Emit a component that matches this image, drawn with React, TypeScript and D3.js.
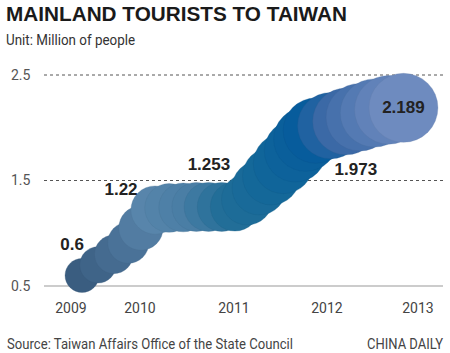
import React, { useRef, useEffect } from 'react';
import * as d3 from 'd3';

// tick labels
const years = [2009, 2010, 2011, 2012, 2013];
const yTicks = [0.5, 1.5, 2.5];

// bubble track (t = position in years, v = million people)
const bubbleT = [
  2009.16, 2009.39, 2009.62, 2009.83, 2010.01, 2010.16, 2010.31, 2010.46, 2010.6,
  2010.73, 2010.87, 2011.01, 2011.14, 2011.27, 2011.4, 2011.53, 2011.66, 2011.77,
  2011.88, 2012.04, 2012.21, 2012.36, 2012.52, 2012.68, 2012.84,
];
const bubbleV = [
  0.6, 0.7, 0.8, 0.91, 1.05, 1.22, 1.24, 1.245, 1.25, 1.25, 1.25, 1.253, 1.32,
  1.43, 1.54, 1.66, 1.78, 1.89, 1.973, 2.02, 2.06, 2.1, 2.14, 2.17, 2.189,
];

// labelled annual values and the bubble each one belongs to
const labelValues = ['0.6', '1.22', '1.253', '1.973', '2.189'];
const labelBubble = [0, 5, 11, 18, 24];

const W = 450;
const H = 353;

const App: React.FC = () => {
  const svgRef = useRef<SVGSVGElement>(null);

  useEffect(() => {
    if (!svgRef.current) return;
    const svg = d3.select(svgRef.current);
    svg.selectAll('*').remove();

    const x = d3.scaleLinear().domain(years).range([71, 140, 234, 327, 418]);
    const y = d3.scaleLinear().domain([0.5, 2.5]).range([286, 75]);
    const r = d3.scaleLinear().domain([0.6, 1.25, 1.6, 2.189]).range([17, 24.5, 29.5, 34.5]);
    const color = d3
      .scaleLinear<string>()
      .domain([2009.16, 2009.83, 2010.16, 2010.6, 2011.0, 2011.4, 2011.88, 2012.2, 2012.84])
      .range(['#3a5d80', '#4a7298', '#5885ab', '#4a7ea5', '#226e98', '#146899', '#075c9c', '#3a68a6', '#6e8bbf'])
      .interpolate(d3.interpolateRgb);

    const light = 'Roboto, "Liberation Sans", sans-serif';
    const bold = '"Liberation Sans", Arial, sans-serif';

    // title block
    svg.append('text')
      .attr('x', 6).attr('y', 21)
      .attr('font-family', bold).attr('font-weight', 900).attr('font-size', 21)
      .attr('fill', '#1a1a1a')
      .attr('textLength', 341).attr('lengthAdjust', 'spacingAndGlyphs')
      .text('MAINLAND TOURISTS TO TAIWAN');

    svg.append('text')
      .attr('x', 6).attr('y', 45)
      .attr('font-family', light).attr('font-size', 15).attr('fill', '#333')
      .attr('textLength', 129).attr('lengthAdjust', 'spacingAndGlyphs')
      .text('Unit: Million of people');

    // gridlines
    yTicks.forEach(t => {
      svg.append('line')
        .attr('x1', 44).attr('x2', 443)
        .attr('y1', y(t)).attr('y2', y(t))
        .attr('stroke', t === 0.5 ? '#999' : '#555')
        .attr('stroke-width', 1)
        .attr('stroke-dasharray', t === 0.5 ? null : '3,3');
      svg.append('text')
        .attr('x', 11).attr('y', y(t)).attr('dy', '0.35em')
        .attr('font-family', light).attr('font-size', 14).attr('fill', '#555')
        .text(String(t));
    });

    // x labels
    years.forEach(yr => {
      svg.append('text')
        .attr('x', x(yr)).attr('y', 313)
        .attr('text-anchor', 'middle')
        .attr('font-family', light).attr('font-size', 14).attr('fill', '#444')
        .text(String(yr));
    });

    // bubbles, later ones drawn on top
    const data = bubbleT.map((t, i) => ({ t, v: bubbleV[i] }));
    svg.append('g')
      .selectAll('circle')
      .data(data)
      .enter()
      .append('circle')
      .attr('cx', d => x(d.t))
      .attr('cy', d => y(d.v))
      .attr('r', d => r(d.v))
      .attr('fill', d => color(d.t))
      .attr('stroke', d => d3.color(color(d.t))!.darker(0.35).formatHex())
      .attr('stroke-opacity', 0.35)
      .attr('stroke-width', 0.8);

    // value labels
    const offsets = [
      [-10, -25],
      [-34, -15],
      [-26, -37],
      [40, 44],
      [0, 5],
    ];
    labelValues.forEach((lbl, i) => {
      const d = data[labelBubble[i]];
      svg.append('text')
        .attr('x', x(d.t) + offsets[i][0])
        .attr('y', y(d.v) + offsets[i][1])
        .attr('text-anchor', 'middle')
        .attr('font-family', bold).attr('font-weight', 700).attr('font-size', 17)
        .attr('fill', '#222')
        .text(lbl);
    });

    // footer
    svg.append('text')
      .attr('x', 7).attr('y', 349)
      .attr('font-family', light).attr('font-size', 14).attr('fill', '#444')
      .attr('textLength', 286).attr('lengthAdjust', 'spacingAndGlyphs')
      .text('Source: Taiwan Affairs Office of the State Council');

    svg.append('text')
      .attr('x', 443).attr('y', 349)
      .attr('text-anchor', 'end')
      .attr('font-family', light).attr('font-size', 14).attr('fill', '#444')
      .attr('textLength', 76).attr('lengthAdjust', 'spacingAndGlyphs')
      .text('CHINA DAILY');
  }, []);

  return (
    <svg
      ref={svgRef}
      width={W}
      height={H}
      style={{ position: 'absolute', left: 0, top: 0, background: '#fff' }}
    ></svg>
  );
};

export default App;
